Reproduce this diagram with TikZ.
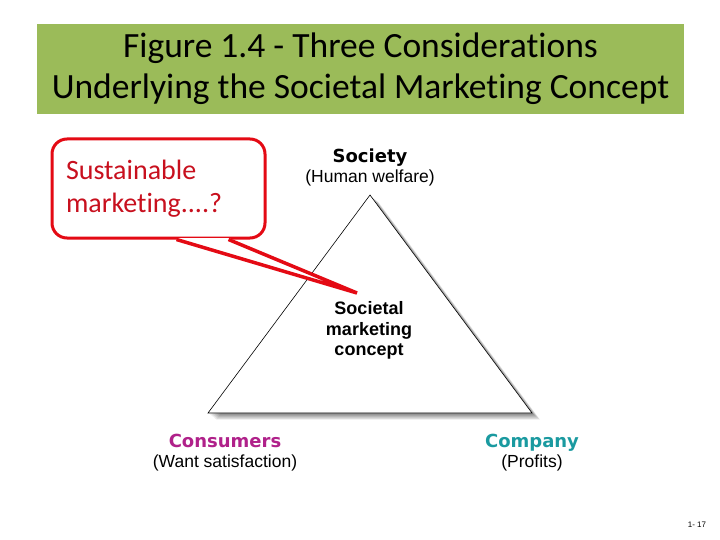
\documentclass[tikz,border=0pt]{standalone}
\usepackage{fontspec}
\setmainfont{Carlito}[Ligatures=NoCommon]
\newfontfamily\arialfont{Liberation Sans}
\newfontfamily\dejafont{DejaVu Sans}
\newcommand\headtext[1]{{\dejafont\bfseries\fontsize{18}{20}\selectfont #1}}
\definecolor{titlegreen}{RGB}{155,187,89}
\definecolor{noteline}{RGB}{228,10,20}
\definecolor{notetext}{RGB}{200,16,30}
\definecolor{consumercol}{RGB}{176,33,138}
\definecolor{companycol}{RGB}{26,154,160}
\tikzset{
  corner label/.style={align=center,font=\arialfont\fontsize{17.5}{20}\selectfont,inner sep=0pt}
}
\begin{document}
\begin{tikzpicture}[x=1pt,y=-1pt]
\useasboundingbox[fill=white] (0,0) rectangle (720,540);

% title bar
\node (title) [fill=titlegreen,minimum width=647pt,minimum height=90pt,align=center,
  font=\fontsize{35.5}{41}\selectfont,inner sep=0pt] at (360.5,69)
  {Figure 1.4 - Three Considerations\\Underlying the Societal Marketing Concept};

% the triangle, with a soft shadow
\coordinate (top) at (370,195);
\coordinate (left) at (208,413);
\coordinate (right) at (532,413);
\foreach \s in {7,6,...,1}
  \fill[black,opacity=0.07] ([shift={(\s*1.0+1,\s*0.8+1)}]top) -- ([shift={(\s*1.0+1,\s*0.8+1)}]left)
    -- ([shift={(\s*1.0+1,\s*0.8+1)}]right) -- cycle;
\draw[fill=white,line width=0.6pt] (top) -- (left) -- (right) -- cycle;

\node (society) [corner label] at (370,167) {\headtext{Society}\\(Human welfare)};
\node (concept) [corner label,font=\arialfont\bfseries\fontsize{18}{20.5}\selectfont] at (369,330.5)
  {Societal\\marketing\\concept};
\node (consumers) [corner label] at (225,453) {\headtext{\color{consumercol}Consumers}\\(Want satisfaction)};
\node (company) [corner label] at (532,453) {\headtext{\color{companycol}Company}\\(Profits)};

% callout
\node (note) [draw=noteline,line width=3pt,rounded corners=15pt,minimum width=213pt,
  minimum height=99pt,text width=185pt,inner xsep=14pt,align=left,text=notetext,
  font=\fontsize{28}{33}\selectfont] at (158.5,188.5) {Sustainable\\marketing....?};
\coordinate (tip) at (357,293);
\fill[white] ([xshift=18pt,yshift=1.5pt]note.south) -- (tip) -- ([xshift=70pt,yshift=1.5pt]note.south) -- cycle;
\draw[noteline,line width=3.5pt,line join=miter] ([xshift=18pt]note.south) -- (tip) -- ([xshift=70pt]note.south);

\node (page) [font=\arialfont\fontsize{8}{9}\selectfont] at (697,525) {1- 17};
\end{tikzpicture}
\end{document}
